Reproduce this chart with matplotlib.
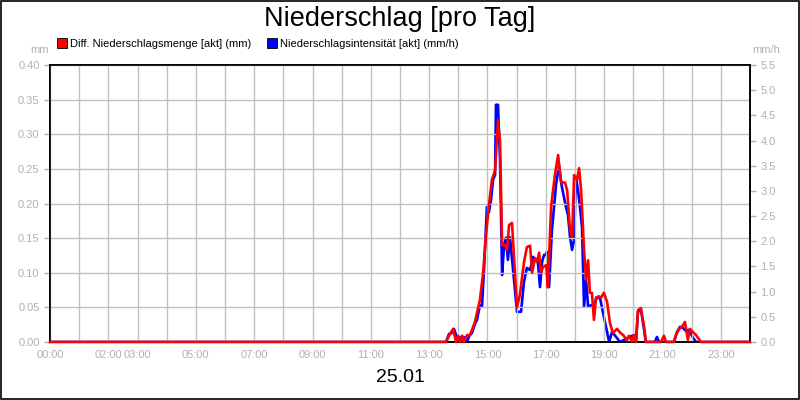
import matplotlib
matplotlib.use('Agg')
import matplotlib.pyplot as plt
from matplotlib.lines import Line2D
from matplotlib.patches import Rectangle

plt.rcParams['font.family'] = ['Liberation Sans', 'DejaVu Sans']

# Diff. Niederschlagsmenge [akt] (mm), time in hours
red_hours = [0.0, 13.58, 13.68, 13.82, 13.92, 13.99, 14.06, 14.13, 14.19, 14.30, 14.40,
             14.57, 14.74, 14.85, 14.95, 15.05, 15.15, 15.26, 15.36, 15.43, 15.50,
             15.60, 15.67, 15.74, 15.84, 16.01, 16.11, 16.25, 16.35, 16.46, 16.53,
             16.63, 16.70, 16.77, 16.83, 16.90, 17.01, 17.07, 17.18, 17.31, 17.42,
             17.52, 17.66, 17.73, 17.83, 17.90, 17.97, 18.07, 18.14, 18.21, 18.31,
             18.38, 18.45, 18.51, 18.58, 18.65, 18.72, 18.82, 18.89, 18.99, 19.10,
             19.20, 19.30, 19.44, 19.54, 19.65, 19.78, 19.85, 19.95, 20.02, 20.09,
             20.16, 20.26, 20.37, 20.43, 20.95, 21.05, 21.12, 21.39, 21.46, 21.57,
             21.67, 21.77, 21.87, 21.94, 22.05, 22.15, 22.25, 22.32, 24.0]
red_mm = [0.0, 0.0, 0.009, 0.019, 0.0, 0.009, 0.0, 0.009, 0.0, 0.010, 0.010,
          0.029, 0.061, 0.10, 0.155, 0.198, 0.234, 0.248, 0.32, 0.29, 0.14,
          0.14, 0.133, 0.169, 0.172, 0.05, 0.068, 0.115, 0.137, 0.139, 0.10,
          0.121, 0.116, 0.129, 0.10, 0.108, 0.111, 0.079, 0.195, 0.241, 0.27,
          0.231, 0.230, 0.219, 0.162, 0.152, 0.241, 0.234, 0.251, 0.219, 0.133,
          0.09, 0.118, 0.071, 0.071, 0.032, 0.064, 0.066, 0.064, 0.071, 0.058,
          0.027, 0.013, 0.019, 0.014, 0.01, 0.003, 0.009, 0.001, 0.01, 0.0,
          0.046, 0.049, 0.022, 0.0, 0.0, 0.009, 0.0, 0.0, 0.01, 0.019,
          0.022, 0.029, 0.003, 0.019, 0.014, 0.01, 0.004, 0.0, 0.0]

# Niederschlagsintensität [akt] (mm/h)
blue_hours = [0.0, 13.58, 13.68, 13.78, 13.85, 13.92, 13.99, 14.06, 14.13, 14.19, 14.30,
              14.37, 14.47, 14.57, 14.64, 14.74, 14.81, 14.88, 14.98, 15.05, 15.12,
              15.19, 15.26, 15.29, 15.36, 15.43, 15.50, 15.57, 15.63, 15.70, 15.77,
              15.91, 16.01, 16.15, 16.25, 16.35, 16.46, 16.56, 16.66, 16.73, 16.80,
              16.87, 16.94, 17.01, 17.04, 17.11, 17.21, 17.35, 17.45, 17.55, 17.69,
              17.76, 17.83, 17.90, 17.97, 18.03, 18.10, 18.17, 18.24, 18.31, 18.38,
              18.45, 18.55, 18.65, 18.75, 18.86, 18.96, 19.10, 19.17, 19.27, 19.41,
              19.54, 20.02, 20.09, 20.16, 20.26, 20.37, 20.43, 20.74, 20.81, 20.88,
              21.39, 21.50, 21.60, 21.70, 21.80, 21.91, 22.05, 22.15, 24.0]
blue_mmh = [0.0, 0.0, 0.16, 0.18, 0.26, 0.14, 0.0, 0.10, 0.0, 0.10, 0.0,
            0.12, 0.18, 0.36, 0.44, 0.73, 0.70, 1.43, 2.68, 2.58, 2.82,
            3.22, 3.32, 4.71, 4.71, 3.61, 1.33, 1.93, 2.07, 1.63, 2.08,
            1.23, 0.60, 0.60, 1.19, 1.47, 1.43, 1.69, 1.63, 1.57, 1.09,
            1.59, 1.73, 1.73, 1.79, 1.09, 2.22, 3.12, 3.51, 3.08, 2.68,
            2.52, 2.08, 1.83, 2.03, 3.28, 3.02, 2.68, 2.28, 0.70, 1.23,
            0.70, 0.73, 0.73, 0.89, 0.87, 0.58, 0.20, 0.0, 0.20, 0.10,
            0.0, 0.14, 0.0, 0.60, 0.64, 0.24, 0.0, 0.0, 0.10, 0.0,
            0.0, 0.20, 0.30, 0.28, 0.22, 0.24, 0.08, 0.0, 0.0]

xtick_pos = [0, 2, 3, 5, 7, 9, 11, 13, 15, 17, 19, 21, 23]
xtick_labels = ['00:00', '02:00', '03:00', '05:00', '07:00', '09:00', '11:00',
                '13:00', '15:00', '17:00', '19:00', '21:00', '23:00']

grey = '#b0b0b0'
fig = plt.figure(figsize=(8, 4), dpi=100)
fig.patches.append(Rectangle((0.0008, 0.0015), 0.998, 0.996, transform=fig.transFigure,
                             fill=False, edgecolor='black', linewidth=1.2))

ax = fig.add_axes([0.0625, 0.145, 0.875, 0.6925])
ax2 = ax.twinx()

ax.set_xlim(0, 24)
ax.set_ylim(0, 0.40)
ax2.set_ylim(0, 5.5)

ax2.plot(blue_hours, blue_mmh, color='#0000ff', linewidth=1.9, solid_joinstyle='round')
ax.plot(red_hours, red_mm, color='#ff0000', linewidth=1.9, solid_joinstyle='round',
        zorder=5, clip_on=False)
ax.set_zorder(ax2.get_zorder() + 1)
ax.patch.set_visible(False)

ax.set_yticks([i * 0.05 for i in range(9)])
ax.set_yticklabels([f'{i * 0.05:.2f}' for i in range(9)])
ax2.set_yticks([i * 0.5 for i in range(12)])
ax2.set_yticklabels([f'{i * 0.5:.1f}' for i in range(12)])
ax.set_xticks(range(25), minor=True)
ax.set_xticks(xtick_pos)
ax.set_xticklabels(xtick_labels)

ax.grid(True, which='both', color='#c0c0c0', linewidth=1)
ax.set_axisbelow(True)
for a in (ax, ax2):
    a.tick_params(axis='both', which='both', colors=grey, labelcolor=grey,
                  labelsize=8, length=4, width=1)
    for s in a.spines.values():
        s.set_color('black')
        s.set_linewidth(1.2)
ax.tick_params(axis='x', which='both', length=0, pad=6)

fig.text(0.5, 0.953, 'Niederschlag [pro Tag]', ha='center', va='center', fontsize=19.5)
fig.text(0.5, 0.055, '25.01', ha='center', va='center', fontsize=14)
fig.text(0.05, 0.875, 'mm', ha='center', va='center', fontsize=8, color=grey)
fig.text(0.958, 0.875, 'mm/h', ha='center', va='center', fontsize=8, color=grey)

handles = [Line2D([], [], linestyle='none', marker='s', markersize=7,
                  markerfacecolor='#ff0000', markeredgecolor='black', markeredgewidth=0.6),
           Line2D([], [], linestyle='none', marker='s', markersize=7,
                  markerfacecolor='#0000ff', markeredgecolor='black', markeredgewidth=0.6)]
fig.legend(handles, ['Diff. Niederschlagsmenge [akt] (mm)',
                     'Niederschlagsintensität [akt] (mm/h)'],
           loc='center left', bbox_to_anchor=(0.072, 0.89), ncol=2, frameon=False,
           fontsize=8, handlelength=0.8, handletextpad=0.3, columnspacing=1.5,
           borderpad=0, borderaxespad=0)

fig.savefig('out.png', dpi=100)
